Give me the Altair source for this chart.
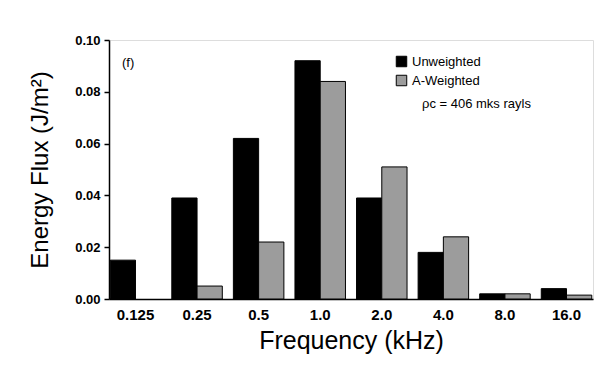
import altair as alt
import pandas as pd

freqs = ["0.125", "0.25", "0.5", "1.0", "2.0", "4.0", "8.0", "16.0"]
unweighted = [0.015, 0.039, 0.062, 0.092, 0.039, 0.018, 0.002, 0.004]
a_weighted = [0.0, 0.005, 0.022, 0.084, 0.051, 0.024, 0.002, 0.0015]
series = ["Unweighted", "A-Weighted"]
y_ticks = [0.0, 0.02, 0.04, 0.06, 0.08, 0.10]

rows = []
for f, u, a in zip(freqs, unweighted, a_weighted):
    rows.append({"freq": f, "series": series[0], "value": u})
    rows.append({"freq": f, "series": series[1], "value": a})
df = pd.DataFrame(rows)

FONT = "Liberation Sans"

bars = alt.Chart(df).transform_filter("datum.value > 0").mark_bar(stroke="black", strokeWidth=1).encode(
    x=alt.X("freq:N", sort=freqs,
            scale=alt.Scale(domain=freqs, paddingInner=0.18, paddingOuter=0.02),
            axis=alt.Axis(title="Frequency (kHz)", labelAngle=0, ticks=False,
                          labelFontSize=15, labelFontWeight="bold", labelPadding=8,
                          titleFontSize=25, titleFontWeight="normal", titlePadding=6,
                          domainColor="black", domainWidth=1.5,
                          labelColor="black", titleColor="black")),
    xOffset=alt.XOffset("series:N", sort=series,
                        scale=alt.Scale(domain=series, paddingInner=0, paddingOuter=0)),
    y=alt.Y("value:Q", scale=alt.Scale(domain=[0, 0.1], nice=False),
            axis=alt.Axis(title="Energy Flux (J/m²)", values=y_ticks, format=".2f",
                          grid=False, tickSize=5, tickColor="black", tickWidth=1.5,
                          labelFontSize=13, labelFontWeight="bold", labelPadding=4,
                          titleFontSize=24, titleFontWeight="normal", titlePadding=22,
                          domainColor="black", domainWidth=1.5,
                          labelColor="black", titleColor="black")),
    color=alt.Color("series:N", sort=series,
                    scale=alt.Scale(domain=series, range=["#000000", "#9c9c9c"]),
                    legend=alt.Legend(title=None, orient="none", legendX=286, legendY=15,
                                      symbolType="square", symbolSize=110,
                                      symbolStrokeColor="black", symbolStrokeWidth=1,
                                      labelFontSize=13, labelFont=FONT, labelColor="black",
                                      rowPadding=4)),
)

note = alt.Chart(pd.DataFrame({"t": ["ρc = 406 mks rayls"]})).mark_text(
    align="left", baseline="middle", fontSize=13, font=FONT, color="black"
).encode(x=alt.value(313), y=alt.value(64), text="t:N")

panel = alt.Chart(pd.DataFrame({"t": ["(f)"]})).mark_text(
    align="left", baseline="middle", fontSize=13, font=FONT, color="black"
).encode(x=alt.value(13), y=alt.value(23), text="t:N")

chart = alt.layer(bars, note, panel).properties(
    width=484, height=259,
    autosize=alt.AutoSizeParams(type="none"),
    padding={"left": 109, "top": 40, "right": 15, "bottom": 68},
).configure_view(stroke="black", strokeWidth=1.5).configure(font=FONT, background="white")

chart.save("out.html", embed_options={"renderer": "svg", "actions": False})
